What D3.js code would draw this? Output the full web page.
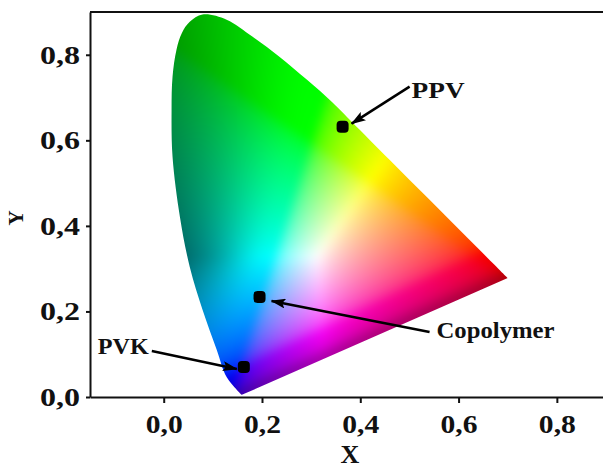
<!DOCTYPE html>
<html>
<head>
<meta charset="utf-8">
<script src="https://cdn.jsdelivr.net/npm/d3@7"></script>
<style>
  html, body { margin: 0; padding: 0; background: #fff; }
  svg { display: block; }
</style>
</head>
<body>
<div id="chart"></div>
<script>
// spectral locus outline (CIE x, y)
const locusX = [0.159, 0.128, 0.108, 0.079, 0.053, 0.033, 0.018, 0.016, 0.018, 0.026, 0.037, 0.053, 0.079,
  0.128, 0.181, 0.236, 0.291, 0.344, 0.383, 0.46, 0.54, 0.62, 0.700];
const locusY = [0.005, 0.047, 0.110, 0.204, 0.304, 0.421, 0.561, 0.671, 0.749, 0.812, 0.851, 0.877, 0.894,
  0.882, 0.842, 0.795, 0.742, 0.688, 0.643, 0.554, 0.462, 0.370, 0.278];

// measured colour coordinates
const sampleNames = ['PPV', 'Copolymer', 'PVK'];
const sampleX = [0.364, 0.195, 0.163];
const sampleY = [0.632, 0.234, 0.070];

const tickValues = [0, 0.2, 0.4, 0.6, 0.8];
const xTitle = 'X';
const yTitle = 'Y';

const width = 603;
const height = 470;
const margin = { top: 12, right: -3, bottom: 73, left: 90 };
const font = '"Liberation Serif", "Times New Roman", serif';

const x = d3.scaleLinear().domain([-0.15, 0.9]).range([margin.left, width - margin.right]);
const y = d3.scaleLinear().domain([0, 0.9]).range([height - margin.bottom, margin.top]);

const svg = d3.select('#chart').append('svg')
  .attr('width', width)
  .attr('height', height);

svg.append('rect').attr('width', width).attr('height', height).attr('fill', '#fff');

const locus = locusX.map((d, i) => [d, locusY[i]]);
const locusPath = d3.line()
  .x(d => x(d[0]))
  .y(d => y(d[1]))
  .curve(d3.curveCatmullRom)(locus) + 'Z';

const defs = svg.append('defs');
defs.append('clipPath').attr('id', 'locus-clip')
  .append('path').attr('d', locusPath);

defs.append('marker')
  .attr('id', 'arrow')
  .attr('viewBox', '0 0 15 10')
  .attr('refX', 14)
  .attr('refY', 5)
  .attr('markerWidth', 15)
  .attr('markerHeight', 10)
  .attr('markerUnits', 'userSpaceOnUse')
  .attr('orient', 'auto')
  .append('path')
  .attr('d', 'M0,0 L15,5 L0,10 L3,5 Z')
  .attr('fill', '#000');

// colour of a chromaticity point: xy -> XYZ -> sRGB, normalised to its max channel
const blueEnd = locus[0];
const redEnd = locus[locus.length - 1];

function purpleDistance (cx, cy) {
  const dx = redEnd[0] - blueEnd[0];
  const dy = redEnd[1] - blueEnd[1];
  return Math.abs(dy * (cx - blueEnd[0]) - dx * (cy - blueEnd[1])) / Math.hypot(dx, dy);
}

function gammaEncode (c) {
  return c <= 0.0031308 ? 12.92 * c : 1.055 * Math.pow(c, 1 / 2.4) - 0.055;
}

function chromaColor (cx, cy) {
  const yy = Math.max(cy, 0.002);
  const X = cx / yy;
  const Z = (1 - cx - yy) / yy;
  let r = 3.2406 * X - 1.5372 - 0.4986 * Z;
  let g = -0.9689 * X + 1.8758 + 0.0415 * Z;
  let b = 0.0557 * X - 0.2040 + 1.0570 * Z;
  const neg = -Math.min(0, r, g, b);
  r = Math.max(r, 0); g = Math.max(g, 0); b = Math.max(b, 0);
  const mx = Math.max(r, g, b) || 1;
  // out-of-gamut colours get darker, and so does the purple line
  const outside = Math.min(neg / mx, 1.3);
  const shade = (1 / (1 + Math.pow(outside, 2.5))) * (1 - 0.4 * Math.exp(-purpleDistance(cx, cy) / 0.025));
  return [r, g, b].map(c => Math.round(255 * shade * gammaEncode(c / mx)));
}

// paint the diagram into a canvas, soften it, and place it under the locus clip
const pad = 16;
const boxLeft = Math.floor(x(d3.min(locusX)) - pad);
const boxRight = Math.ceil(x(d3.max(locusX)) + pad);
const boxTop = Math.floor(y(d3.max(locusY)) - pad);
const boxBottom = Math.ceil(y(d3.min(locusY)) + pad);
const cw = boxRight - boxLeft;
const ch = boxBottom - boxTop;
const raw = document.createElement('canvas');
raw.width = cw;
raw.height = ch;
const rctx = raw.getContext('2d');
const img = rctx.createImageData(cw, ch);
for (let j = 0; j < ch; j++) {
  for (let i = 0; i < cw; i++) {
    const cx = x.invert(boxLeft + i + 0.5);
    const cy = y.invert(boxTop + j + 0.5);
    const rgb = chromaColor(cx, cy);
    const k = (j * cw + i) * 4;
    img.data[k] = rgb[0];
    img.data[k + 1] = rgb[1];
    img.data[k + 2] = rgb[2];
    img.data[k + 3] = 255;
  }
}
rctx.putImageData(img, 0, 0);

const soft = document.createElement('canvas');
soft.width = cw;
soft.height = ch;
const sctx = soft.getContext('2d');
sctx.filter = 'blur(5px)';
sctx.drawImage(raw, 0, 0);

svg.append('image')
  .attr('x', boxLeft)
  .attr('y', boxTop)
  .attr('width', cw)
  .attr('height', ch)
  .attr('href', soft.toDataURL())
  .attr('clip-path', 'url(#locus-clip)');

// axes
const fmt = d => d3.format('.1f')(d).replace('.', ',');

const xAxis = svg.append('g')
  .attr('transform', `translate(0, ${y(0)})`)
  .call(d3.axisBottom(x).tickValues(tickValues).tickFormat(fmt).tickSize(6).tickSizeOuter(0));

const yAxis = svg.append('g')
  .attr('transform', `translate(${x(-0.15)}, 0)`)
  .call(d3.axisLeft(y).tickValues(tickValues).tickFormat(fmt).tickSize(4).tickPadding(6).tickSizeOuter(0));

[xAxis, yAxis].forEach(g => {
  g.select('.domain').attr('stroke', '#111').attr('stroke-width', 2);
  g.selectAll('.tick line').attr('stroke', '#111').attr('stroke-width', 2);
  g.selectAll('.tick text')
    .attr('fill', '#111')
    .attr('font-family', font)
    .attr('font-weight', 'bold')
    .attr('font-size', 25)
    .attr('lengthAdjust', 'spacingAndGlyphs');
});

xAxis.selectAll('.tick text').attr('y', 36).attr('dy', null).attr('textLength', 37);
yAxis.selectAll('.tick text').attr('dy', '0.34em').attr('textLength', 40);

// frame top and right
svg.append('path')
  .attr('d', `M${x(-0.15)},${y(0.9)}H${x(0.9)}V${y(0)}`)
  .attr('fill', 'none')
  .attr('stroke', '#111')
  .attr('stroke-width', 2);

// axis titles
svg.append('text')
  .attr('x', 350)
  .attr('y', 463)
  .attr('text-anchor', 'middle')
  .attr('font-family', font)
  .attr('font-weight', 'bold')
  .attr('font-size', 26)
  .attr('fill', '#111')
  .text(xTitle);

svg.append('text')
  .attr('transform', 'translate(23, 218) rotate(-90)')
  .attr('text-anchor', 'middle')
  .attr('font-family', font)
  .attr('font-weight', 'bold')
  .attr('font-size', 21)
  .attr('fill', '#111')
  .text(yTitle);

// sample points with callouts (offsets in px from the point)
const callouts = {
  PPV: { tail: [67, -40], tip: [9, -3], label: [69, -29], anchor: 'start', len: 53 },
  Copolymer: { tail: [170, 35], tip: [12, 4], label: [177, 41], anchor: 'start', len: 118 },
  PVK: { tail: [-92, -16], tip: [-7, 2], label: [-95, -13], anchor: 'end', len: 51 }
};

sampleNames.forEach((name, i) => {
  const px = x(sampleX[i]);
  const py = y(sampleY[i]);
  const c = callouts[name];

  svg.append('rect')
    .attr('x', px - 6)
    .attr('y', py - 6)
    .attr('width', 12)
    .attr('height', 12)
    .attr('rx', 4)
    .attr('fill', '#000');

  svg.append('line')
    .attr('x1', px + c.tail[0])
    .attr('y1', py + c.tail[1])
    .attr('x2', px + c.tip[0])
    .attr('y2', py + c.tip[1])
    .attr('stroke', '#000')
    .attr('stroke-width', 2.5)
    .attr('marker-end', 'url(#arrow)');

  svg.append('text')
    .attr('x', px + c.label[0])
    .attr('y', py + c.label[1])
    .attr('text-anchor', c.anchor)
    .attr('font-family', font)
    .attr('font-weight', 'bold')
    .attr('font-size', 24)
    .attr('fill', '#111')
    .attr('textLength', c.len)
    .attr('lengthAdjust', 'spacingAndGlyphs')
    .text(name);
});
</script>
</body>
</html>
